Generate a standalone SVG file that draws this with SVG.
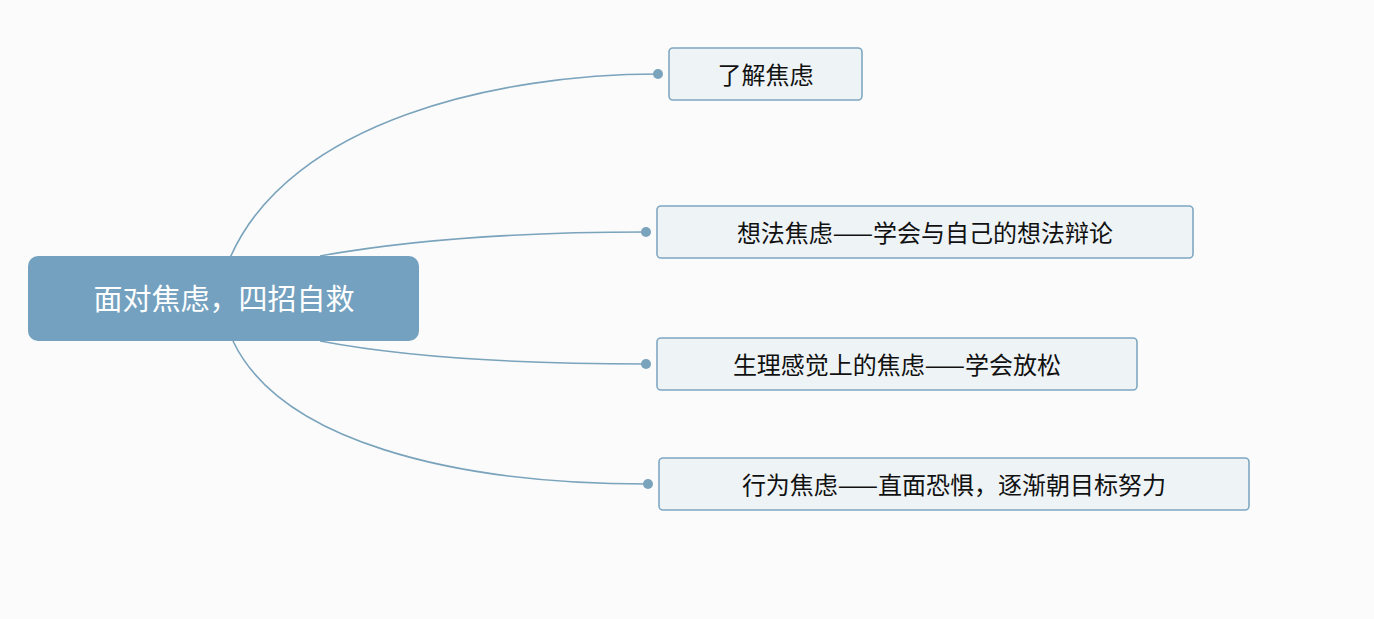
<svg xmlns="http://www.w3.org/2000/svg" width="1374" height="619" viewBox="0 0 1374 619">
<style>
.c{fill:none;stroke:#7aa3bc;stroke-width:1.6}
.d{fill:#7aa3bc}
.n{fill:#eef3f6;stroke:#7fa7c2;stroke-width:1.6}
.t{font-family:"Noto Sans CJK SC","Liberation Sans",sans-serif;font-size:24px;fill:#111}
</style>
<rect width="1374" height="619" fill="#fbfbfb"/>
<g id="connectors">
<path class="c" d="M230,258 C290,120 500,74 658,74"/>
<path class="c" d="M320,256 C420,238 540,232 646,232"/>
<path class="c" d="M320,341 C420,360 540,364 646,364"/>
<path class="c" d="M233,341 C280,440 450,484 648,484"/>
<circle class="d" cx="658" cy="74" r="5"/>
<circle class="d" cx="646" cy="232" r="5"/>
<circle class="d" cx="646" cy="364" r="5"/>
<circle class="d" cx="648" cy="484" r="5"/>
</g>
<g id="root">
<rect x="28" y="256" width="391" height="85" rx="10" fill="#73a1bf"/>
<text x="224" y="310" text-anchor="middle" style="font-family:'Noto Sans CJK SC','Liberation Sans',sans-serif;font-size:29px;fill:#fff">面对焦虑，四招自救</text>
</g>
<g id="n1">
<rect class="n" x="669" y="48" width="193" height="52" rx="4"/>
<text class="t" x="765.5" y="84" text-anchor="middle">了解焦虑</text>
</g>
<g id="n2">
<rect class="n" x="657" y="206" width="536" height="52" rx="4"/>
<text class="t" x="925" y="242" text-anchor="middle">想法焦虑——学会与自己的想法辩论</text>
</g>
<g id="n3">
<rect class="n" x="657" y="338" width="480" height="52" rx="4"/>
<text class="t" x="897" y="374" text-anchor="middle">生理感觉上的焦虑——学会放松</text>
</g>
<g id="n4">
<rect class="n" x="659" y="458" width="590" height="52" rx="4"/>
<text class="t" x="954" y="494" text-anchor="middle">行为焦虑——直面恐惧，逐渐朝目标努力</text>
</g>
</svg>
